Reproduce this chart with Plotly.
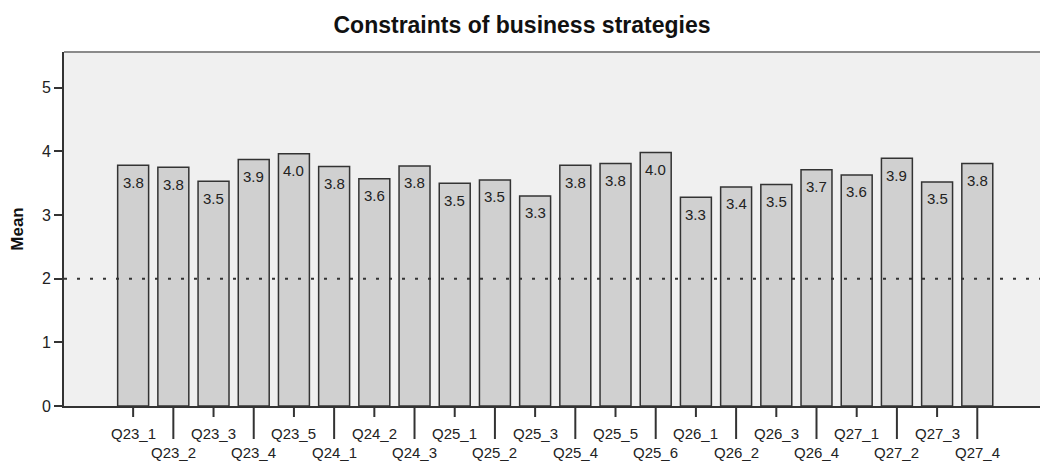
import plotly.graph_objects as go

categories = ["Q23_1", "Q23_2", "Q23_3", "Q23_4", "Q23_5", "Q24_1", "Q24_2", "Q24_3",
              "Q25_1", "Q25_2", "Q25_3", "Q25_4", "Q25_5", "Q25_6",
              "Q26_1", "Q26_2", "Q26_3", "Q26_4",
              "Q27_1", "Q27_2", "Q27_3", "Q27_4"]
means = [3.78, 3.75, 3.53, 3.87, 3.96, 3.76, 3.57, 3.77,
         3.50, 3.55, 3.30, 3.78, 3.81, 3.98,
         3.28, 3.44, 3.48, 3.71,
         3.63, 3.89, 3.52, 3.81]
y_ticks = [0, 1, 2, 3, 4, 5]
ref_line = 2

FONT = "Liberation Sans, Arial, sans-serif"
idx = list(range(len(categories)))

fig = go.Figure()
fig.add_trace(go.Bar(
    x=idx, y=means, width=0.77,
    marker=dict(color="#d0d0d0", line=dict(color="#333333", width=1.5)),
    hoverinfo="skip",
))

annotations = []
for i, v in zip(idx, means):
    annotations.append(dict(x=i, y=v, xref="x", yref="y", text=f"{v:.1f}",
                            showarrow=False, yshift=-17,
                            font=dict(family=FONT, size=15, color="#222222")))
for i, c in zip(idx, categories):
    annotations.append(dict(x=i, y=0, xref="x", yref="paper", text=c,
                            showarrow=False, yanchor="middle",
                            yshift=-27 if i % 2 == 0 else -46,
                            font=dict(family=FONT, size=15, color="#222222")))

shapes = []
for i in idx:
    shapes.append(dict(type="line", xref="x", yref="paper", ysizemode="pixel",
                       yanchor=0, x0=i, x1=i, y0=0, y1=-11 if i % 2 == 0 else -33,
                       line=dict(color="#333333", width=2)))
shapes.append(dict(type="line", xref="paper", yref="y", x0=0, x1=1, y0=ref_line, y1=ref_line,
                   line=dict(color="#333333", width=2, dash="3px,10px")))
shapes.append(dict(type="line", xref="paper", yref="paper", x0=0, x1=1, y0=1, y1=1,
                   line=dict(color="#8a8a8a", width=2)))

fig.update_layout(
    width=1040, height=462,
    margin=dict(l=64, r=0, t=52, b=56),
    paper_bgcolor="white", plot_bgcolor="#f0f0f0",
    showlegend=False,
    title=dict(text="Constraints of business strategies", x=522 / 1040, xanchor="center",
               y=1 - (25 / 462), yanchor="middle",
               font=dict(family=FONT, size=23, color="#111111", weight="bold")),
    xaxis=dict(range=[-1.72, 22.56], showticklabels=False, ticks="", showgrid=False,
               zeroline=False, showline=True, linecolor="#333333", linewidth=2),
    yaxis=dict(range=[0, 5.56], tickvals=y_ticks, ticks="outside", ticklen=8, tickwidth=2,
               tickcolor="#333333", showgrid=False, zeroline=False, showline=True,
               linecolor="#333333", linewidth=2,
               tickfont=dict(family=FONT, size=16, color="#222222"),
               title=dict(text="Mean", standoff=14,
                          font=dict(family=FONT, size=17, color="#111111", weight="bold"))),
    annotations=annotations, shapes=shapes,
)

fig.write_html("out.html", config={"displayModeBar": False},
               post_script="document.body.style.margin='0';document.body.style.overflow='hidden';")
